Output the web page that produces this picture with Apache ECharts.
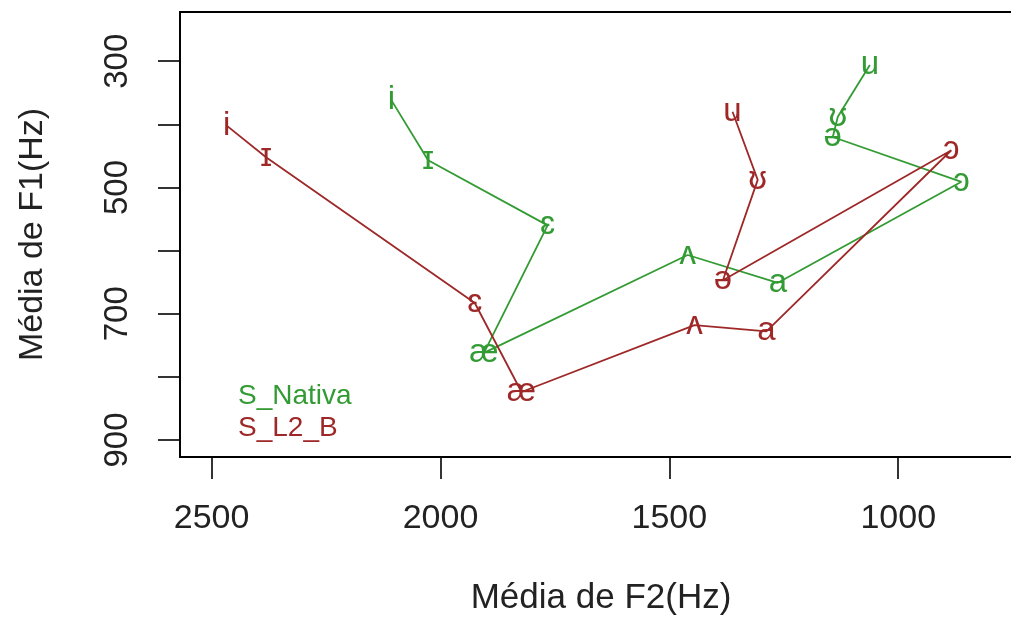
<!DOCTYPE html>
<html>
<head>
<meta charset="utf-8">
<script src="https://cdn.jsdelivr.net/npm/echarts@6/dist/echarts.min.js"></script>
<style>
  html, body { margin: 0; padding: 0; background: #fff; overflow: hidden; }
  #chart { width: 1040px; height: 617px; }
</style>
</head>
<body>
<div id="chart"></div>
<script>
// Vowel categories (plot order)
const vowels = ['i', 'ɪ', 'ɛ', 'æ', 'ʌ', 'a', 'ɔ', 'ə', 'ʊ', 'u'];

// S_Nativa means (Hz)
const nativaF2 = [2107, 2027, 1766, 1905, 1460, 1263, 862, 1143, 1132, 1062];
const nativaF1 = [362, 457, 560, 762, 607, 651, 491, 420, 388, 306];

// S_L2_B means (Hz)
const l2F2 = [2467, 2381, 1925, 1823, 1445, 1288, 884, 1383, 1307, 1362];
const l2F1 = [402, 452, 683, 824, 718, 728, 441, 647, 488, 380];

// Tick values
const xTicks = [1000, 1500, 2000, 2500];
const yTicks = [300, 400, 500, 600, 700, 800, 900];
const yTickLabels = [300, 500, 700, 900];

const seriesNames = ['S_Nativa', 'S_L2_B'];
const colors = ['#339b33', '#9e2828'];

const FONT = '"Liberation Sans", Arial, Helvetica, sans-serif';

function pts(f2, f1) {
  return vowels.map((v, i) => [f2[i], f1[i], v]);
}

const groups = [pts(nativaF2, nativaF1), pts(l2F2, l2F1)];

const series = [];
groups.forEach((data, k) => {
  series.push({
    name: seriesNames[k],
    type: 'line',
    data: data,
    symbol: 'none',
    lineStyle: { color: colors[k], width: 1.8 },
    itemStyle: { color: colors[k] },
    silent: true,
    z: 2
  });
  series.push({
    name: seriesNames[k],
    type: 'scatter',
    data: data,
    symbolSize: 1,
    itemStyle: { color: 'rgba(0,0,0,0)', opacity: 1 },
    label: {
      show: true,
      position: 'inside',
      formatter: p => p.data[2],
      color: colors[k],
      fontSize: 33,
      fontFamily: FONT,
      textBorderWidth: 0,
      textBorderColor: 'transparent'
    },
    emphasis: { disabled: true },
    silent: true,
    z: 3
  });
});

const chart = echarts.init(document.getElementById('chart'), null, { renderer: 'canvas' });
chart.setOption({
  animation: false,
  backgroundColor: '#fff',
  legend: [
    {
      data: [{ name: seriesNames[0], textStyle: { color: colors[0] } }],
      left: 228, top: 377, icon: 'none', itemWidth: 0, itemHeight: 0,
      selectedMode: false,
      textStyle: { fontSize: 28, fontFamily: FONT }
    },
    {
      data: [{ name: seriesNames[1], textStyle: { color: colors[1] } }],
      left: 228, top: 409, icon: 'none', itemWidth: 0, itemHeight: 0,
      selectedMode: false,
      textStyle: { fontSize: 28, fontFamily: FONT }
    }
  ],
  grid: {
    left: 180, top: 12, width: 851, height: 445,
    show: true, borderColor: '#000', borderWidth: 1.8,
    backgroundColor: 'transparent', containLabel: false,
    outerBoundsMode: 'none'
  },
  xAxis: {
    type: 'value',
    inverse: true,
    min: 710, max: 2569,
    name: 'Média de F2(Hz)',
    nameLocation: 'middle',
    nameGap: 124,
    nameTextStyle: { fontSize: 35, fontFamily: FONT, color: '#222', padding: [0, 9, 0, 0] },
    axisLine: { show: true, lineStyle: { color: '#000', width: 1.8 } },
    axisTick: { show: true, length: 22, lineStyle: { color: '#000', width: 1.6 }, customValues: xTicks },
    axisLabel: { fontSize: 34, fontFamily: FONT, color: '#222', margin: 45, customValues: xTicks, formatter: v => String(v) },
    splitLine: { show: false }
  },
  yAxis: {
    type: 'value',
    inverse: true,
    min: 222, max: 927,
    name: 'Média de F1(Hz)',
    nameLocation: 'middle',
    nameGap: 130,
    nameTextStyle: { fontSize: 34, fontFamily: FONT, color: '#222' },
    axisLine: { show: true, lineStyle: { color: '#000', width: 1.8 } },
    axisTick: { show: true, length: 22, lineStyle: { color: '#000', width: 1.6 }, customValues: yTicks },
    axisLabel: { fontSize: 33, fontFamily: FONT, color: '#222', margin: 46, rotate: 90, customValues: yTickLabels, formatter: v => String(v) },
    splitLine: { show: false }
  },
  series: series
});
</script>
</body>
</html>
